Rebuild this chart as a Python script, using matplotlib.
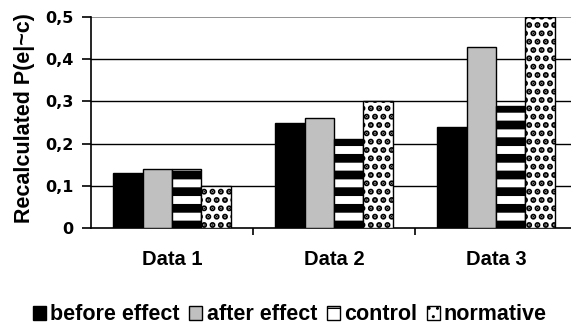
import numpy as np
import matplotlib
matplotlib.use("Agg")
import matplotlib.pyplot as plt

plt.rcParams['font.family'] = ['Liberation Sans', 'DejaVu Sans']
plt.rcParams['font.weight'] = 'bold'

categories = ["Data 1", "Data 2", "Data 3"]
series_names = ["before effect", "after effect", "control", "normative"]
before_effect = [0.13, 0.25, 0.24]
after_effect = [0.14, 0.26, 0.43]
control = [0.14, 0.21, 0.29]
normative = [0.10, 0.30, 0.50]
y_ticks = [0, 0.1, 0.2, 0.3, 0.4, 0.5]
y_tick_labels = ["0", "0,1", "0,2", "0,3", "0,4", "0,5"]

series = [before_effect, after_effect, control, normative]
styles = [
    dict(color="black", hatch=None, hlw=1.0),
    dict(color="#C0C0C0", hatch=None, hlw=1.0),
    dict(color="white", hatch="-", hlw=6.3),
    dict(color="white", hatch="..", hlw=3.0),
]

fig = plt.figure(figsize=(5.71, 3.25), dpi=100)
ax = fig.add_axes([91 / 571, 1 - 228 / 325, 486 / 571, 211 / 325])

x = np.arange(len(categories))
w = 0.182
for i, (vals, st) in enumerate(zip(series, styles)):
    bars = ax.bar(x + (i - 1.5) * w, vals, width=w, color=st["color"],
                  edgecolor="black", linewidth=1.0, hatch=st["hatch"],
                  label=series_names[i], zorder=3)
    for b in bars:
        if hasattr(b, "set_hatch_linewidth"):
            b.set_hatch_linewidth(st["hlw"])

ax.set_xlim(-0.5, 2.5)
ax.set_ylim(0, 0.5)
ax.set_yticks(y_ticks)
ax.set_yticklabels(y_tick_labels, fontsize=11.5, fontweight="bold",
                   family=["DejaVu Sans"])
for y in y_ticks[1:-1]:
    ax.axhline(y, color="black", linewidth=1.0, zorder=1)
ax.axhline(0.5, color="#808080", linewidth=1.2, zorder=1)

ax.set_xticks(x)
ax.set_xticklabels(categories, fontsize=14.5, fontweight="bold")
ax.tick_params(axis="x", which="major", length=0, pad=16)
ax.set_xticks([0.5, 1.5], minor=True)
ax.tick_params(axis="x", which="minor", length=5, width=1.2, direction="out")
ax.tick_params(axis="y", length=6.5, width=1.2, direction="out", pad=6)

for s in ["top", "right"]:
    ax.spines[s].set_visible(False)
ax.spines["left"].set_linewidth(1.2)
ax.spines["bottom"].set_linewidth(1.2)

fig.text(25 / 571, 1 - 118 / 325, "Recalculated P(e|~c)", rotation=90,
         ha="center", va="center", fontsize=15.5, fontweight="bold")

leg = fig.legend(loc="center", bbox_to_anchor=(290 / 571, 1 - 315 / 325), ncol=4,
                 frameon=False, handlelength=0.6, handleheight=0.6,
                 handletextpad=0.2, columnspacing=0.45, borderpad=0.1,
                 prop=dict(weight="bold", size=15.5))

fig.savefig("out.png", dpi=100)
